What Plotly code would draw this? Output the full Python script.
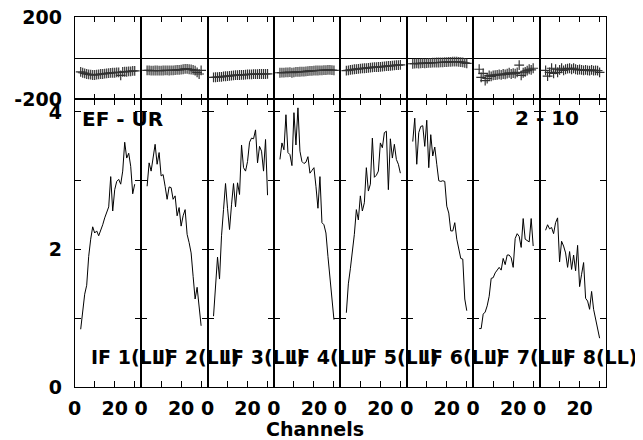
import plotly.graph_objects as go

channels = list(range(3, 31))

amp_if1 = [0.84, 1.15, 1.35, 1.48, 1.90, 2.15, 2.33, 2.24, 2.27, 2.20, 2.27, 2.36, 2.46, 2.55,
           2.62, 3.06, 2.56, 2.87, 2.99, 3.02, 2.95, 3.14, 3.56, 3.33, 3.40, 3.21, 2.81, 2.95]
amp_if2 = [2.92, 3.26, 3.14, 3.38, 3.53, 3.24, 3.41, 3.07, 3.09, 2.92, 2.73, 2.91, 2.90, 2.73,
           2.78, 2.49, 2.61, 2.34, 2.49, 2.58, 2.22, 2.10, 1.95, 1.61, 1.28, 1.45, 1.13, 0.89]
amp_if3 = [1.03, 1.45, 1.89, 1.57, 2.20, 2.58, 2.96, 2.60, 2.29, 2.65, 2.96, 2.62, 2.97, 2.80,
           3.52, 3.19, 3.14, 3.28, 3.56, 3.62, 3.61, 3.74, 3.26, 3.50, 3.43, 3.14, 3.60, 2.79]
amp_if4 = [3.31, 3.55, 3.45, 3.96, 3.41, 3.38, 3.22, 3.99, 3.52, 4.06, 3.43, 3.28, 3.25, 3.27,
           3.35, 3.11, 3.15, 3.19, 2.92, 2.60, 3.06, 2.39, 2.36, 2.24, 1.90, 1.57, 1.28, 0.98]
amp_if5 = [1.08, 1.50, 1.72, 1.95, 2.22, 2.58, 2.43, 2.78, 2.56, 2.68, 3.19, 2.85, 2.95, 3.62,
           3.05, 3.08, 3.14, 3.55, 3.48, 3.70, 3.72, 2.87, 3.61, 3.33, 3.53, 3.31, 3.24, 3.11]
amp_if6 = [3.57, 3.91, 3.24, 3.70, 3.79, 3.80, 3.50, 3.88, 3.19, 3.67, 3.36, 3.49, 3.24, 3.00,
           2.99, 3.00, 2.99, 2.63, 2.53, 2.27, 2.27, 2.39, 2.15, 1.98, 1.87, 1.86, 1.28, 1.11]
amp_if7 = [0.85, 0.85, 1.06, 1.09, 1.18, 1.32, 1.58, 1.59, 1.66, 1.71, 1.74, 1.70, 1.87, 1.78,
           1.92, 1.92, 1.88, 1.74, 2.16, 2.23, 2.19, 2.03, 2.45, 2.15, 2.13, 2.11, 2.45, 2.05]
amp_if8 = [2.28, 2.36, 2.30, 2.32, 2.23, 2.39, 2.46, 1.82, 2.12, 2.05, 1.95, 1.74, 1.97, 1.71,
           1.92, 1.69, 2.06, 1.46, 1.64, 1.81, 1.29, 1.25, 1.13, 1.39, 1.13, 0.99, 0.82, 0.71]

ph_if1 = [-68, -72, -75, -78, -80, -81, -83, -83, -81, -80, -78, -78, -76, -75,
          -74, -73, -72, -72, -70, -70, -85, -68, -67, -67, -65, -65, -63, -63]
ph_if2 = [-60, -60, -62, -62, -61, -61, -62, -62, -61, -60, -60, -61, -60, -60,
          -59, -58, -58, -57, -55, -53, -53, -55, -56, -58, -62, -70, -78, -60]
ph_if3 = [-95, -94, -93, -92, -92, -90, -89, -88, -87, -86, -85, -84, -84, -83,
          -82, -82, -81, -80, -80, -80, -79, -79, -79, -78, -78, -78, -78, -77]
ph_if4 = [-72, -71, -71, -70, -70, -69, -72, -70, -68, -68, -67, -66, -66, -65,
          -64, -63, -63, -62, -61, -61, -60, -60, -59, -59, -58, -58, -59, -60]
ph_if5 = [-62, -60, -58, -57, -55, -54, -53, -52, -51, -50, -49, -48, -47, -46,
          -45, -45, -44, -43, -42, -41, -40, -39, -38, -37, -36, -35, -35, -34]
ph_if6 = [-28, -27, -26, -27, -26, -25, -26, -25, -24, -24, -23, -23, -22, -22,
          -21, -21, -20, -20, -19, -19, -18, -18, -18, -19, -20, -21, -24, -26]
ph_if7 = [-55, -95, -75, -110, -100, -85, -90, -85, -84, -82, -80, -82, -78, -80,
          -76, -72, -78, -74, -76, -70, -35, -85, -72, -68, -62, -55, -58, -50]
ph_if8 = [-60, -88, -70, -50, -75, -55, -70, -58, -50, -60, -55, -52, -50, -55,
          -50, -55, -58, -56, -58, -60, -58, -60, -62, -58, -62, -60, -62, -70]

amps = [amp_if1, amp_if2, amp_if3, amp_if4, amp_if5, amp_if6, amp_if7, amp_if8]
phases = [ph_if1, ph_if2, ph_if3, ph_if4, ph_if5, ph_if6, ph_if7, ph_if8]
if_labels = ["IF 1(LL)", "IF 2(LL)", "IF 3(LL)", "IF 4(LL)",
             "IF 5(LL)", "IF 6(LL)", "IF 7(LL)", "IF 8(LL)"]
x_ticks = [0, 10, 20, 30]
x_ticktext = ["0", "", "20", ""]
amp_ticks = [0, 1, 2, 3, 4]
amp_ticktext = ["0", "", "2", "", "4"]
phase_ticks = [-200, 200]
phase_ticktext = ["-200", "200"]

W, H = 643, 440
OFF = 8.0  # page body margin offset
left, right = 74.7 - OFF, 606.0 - OFF
pw = (right - left) / 8
top_top, top_bot = 17.0 - OFF, 99.0 - OFF
main_bot = 387.0 - OFF
FONT = "DejaVu Sans"

fig = go.Figure()
layout = dict(width=W, height=H, margin=dict(l=0, r=0, t=0, b=0, autoexpand=False),
              paper_bgcolor="white", plot_bgcolor="white", showlegend=False,
              font=dict(family=FONT, color="black", size=19))
annotations = []

for i in range(8):
    x0 = (left + pw * i) / W
    x1 = (left + pw * (i + 1)) / W
    kt = i + 1
    km = i + 9
    fig.add_trace(go.Scatter(x=channels, y=phases[i], mode="markers",
                             marker=dict(symbol="cross-thin", size=7,
                                         line=dict(width=1.2, color="#333")),
                             xaxis=f"x{kt}", yaxis=f"y{kt}", hoverinfo="skip"))
    fig.add_trace(go.Scatter(x=channels, y=amps[i], mode="lines",
                             line=dict(color="black", width=1),
                             xaxis=f"x{km}", yaxis=f"y{km}", hoverinfo="skip"))
    sfx_t = "" if kt == 1 else str(kt)
    sfx_m = str(km)
    layout[f"xaxis{sfx_t}"] = dict(domain=[x0, x1], range=[0, 33.2], anchor=f"y{sfx_t}" if sfx_t else "y",
                                   showline=True, linecolor="black", linewidth=1, mirror="ticks",
                                   ticks="inside", ticklen=5, tickcolor="black",
                                   tickvals=x_ticks, showticklabels=False, automargin=False,
                                   showgrid=False, zeroline=False)
    layout[f"yaxis{sfx_t}"] = dict(domain=[1 - top_bot / H, 1 - top_top / H], range=[-200, 200],
                                   anchor=f"x{sfx_t}" if sfx_t else "x",
                                   showline=True, linecolor="black", linewidth=1, mirror=True,
                                   ticks="", tickvals=phase_ticks, ticktext=phase_ticktext,
                                   showticklabels=(i == 0), ticklabelstandoff=8, automargin=False,
                                   ticklabeloverflow="allow",
                                   tickfont=dict(family=FONT, size=19, weight="bold"),
                                   showgrid=False, zeroline=True, zerolinecolor="black",
                                   zerolinewidth=1)
    layout[f"xaxis{sfx_m}"] = dict(domain=[x0, x1], range=[0, 33.2], anchor=f"y{sfx_m}",
                                   showline=True, linecolor="black", linewidth=1, mirror="ticks",
                                   ticks="inside", ticklen=6, tickcolor="black",
                                   tickvals=x_ticks, ticktext=x_ticktext, showticklabels=True,
                                   ticklabelstandoff=4, automargin=False,
                                   ticklabeloverflow="allow",
                                   tickfont=dict(family=FONT, size=19, weight="bold"),
                                   showgrid=False, zeroline=False)
    layout[f"yaxis{sfx_m}"] = dict(domain=[1 - main_bot / H, 1 - top_bot / H], range=[0, 4.189],
                                   anchor=f"x{sfx_m}",
                                   showline=True, linecolor="black", linewidth=1, mirror="ticks",
                                   ticks="inside", ticklen=6, tickcolor="black",
                                   tickvals=amp_ticks, ticktext=amp_ticktext,
                                   showticklabels=(i == 0), ticklabelstandoff=8, automargin=False,
                                   ticklabeloverflow="allow",
                                   tickfont=dict(family=FONT, size=19, weight="bold"),
                                   showgrid=False, zeroline=False)
    annotations.append(dict(x=7.2, y=0.44, xref=f"x{km}", yref=f"y{km}", text=if_labels[i],
                            showarrow=False, xanchor="left", yanchor="middle",
                            font=dict(family=FONT, size=19, weight="bold", color="black")))

annotations.append(dict(x=(80 - OFF) / W, y=1 - (119 - OFF) / H, xref="paper", yref="paper",
                        text="EF - UR", showarrow=False, xanchor="left", yanchor="middle",
                        font=dict(family=FONT, size=20, weight="bold", color="black")))
annotations.append(dict(x=(581 - OFF) / W, y=1 - (118 - OFF) / H, xref="paper", yref="paper",
                        text="2 - 10", showarrow=False, xanchor="right", yanchor="middle",
                        font=dict(family=FONT, size=20, weight="bold", color="black")))
annotations.append(dict(x=(315 - OFF) / W, y=1 - (429 - OFF) / H, xref="paper", yref="paper",
                        text="Channels", showarrow=False, xanchor="center", yanchor="middle",
                        font=dict(family=FONT, size=19, weight="bold", color="black")))
layout["annotations"] = annotations

fig.update_layout(**layout)
fig.write_html("out.html")
